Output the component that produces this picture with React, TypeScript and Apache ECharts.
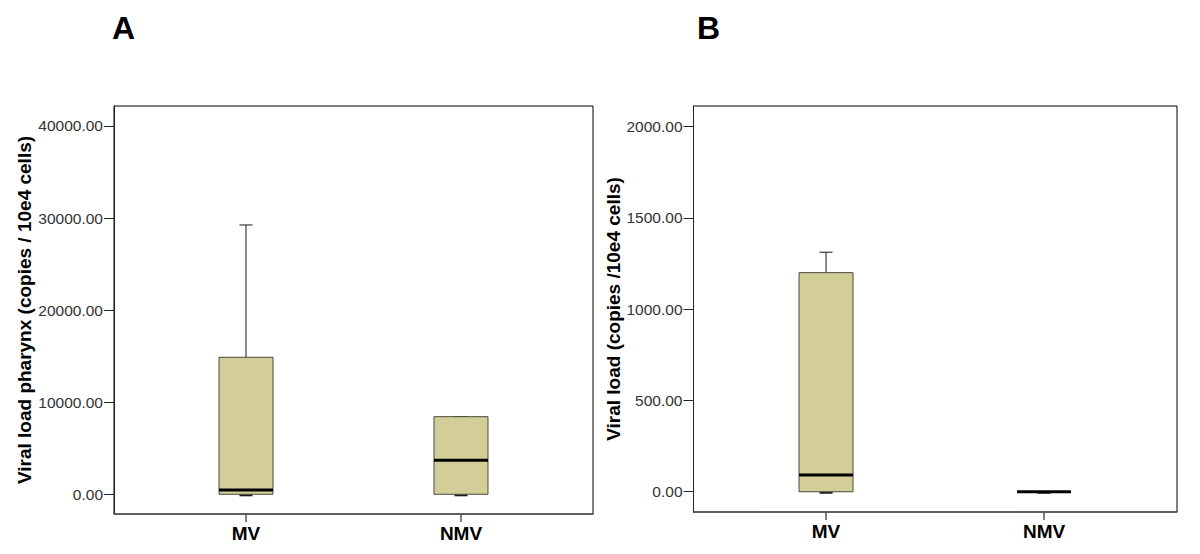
import React, { useEffect, useRef } from "react";
import * as echarts from "echarts";

// Panel A: viral load pharynx
const categoriesA = ["MV", "NMV"];
const minA = [0, 0];
const q1A = [0, 0];
const medianA = [470, 3700];
const q3A = [14880, 8430];
const maxA = [29250, 8430];
const yTicksA = [0, 10000, 20000, 30000, 40000];

// Panel B: viral load
const categoriesB = ["MV", "NMV"];
const minB = [0, 0];
const q1B = [0, 0];
const medianB = [92, 0];
const q3B = [1200, 0];
const maxB = [1312, 0];
const yTicksB = [0, 500, 1000, 1500, 2000];

const FONT = 'Arial, "Liberation Sans", sans-serif';
const BOX_FILL = "#d3ce98";
const BOX_BORDER = "#4a4a3c";
const BOX_W = 54;
const CAP_W = 13;

function rows(mins: number[], q1s: number[], meds: number[], q3s: number[], maxs: number[]) {
  return mins.map((m, i) => [i, m, q1s[i], meds[i], q3s[i], maxs[i]]);
}

const renderBox = (params: any, api: any) => {
  const x = api.value(0);
  const pMin = api.coord([x, api.value(1)]);
  const pQ1 = api.coord([x, api.value(2)]);
  const pMed = api.coord([x, api.value(3)]);
  const pQ3 = api.coord([x, api.value(4)]);
  const pMax = api.coord([x, api.value(5)]);
  const cx = pMed[0];
  const children: any[] = [];
  const whisker = { stroke: "#1a1a1a", lineWidth: 1 };
  if (pMax[1] < pQ3[1] - 0.5) {
    children.push({ type: "line", shape: { x1: cx, y1: pQ3[1], x2: cx, y2: pMax[1] }, style: whisker });
  }
  children.push({ type: "line", shape: { x1: cx - CAP_W / 2, y1: pMax[1], x2: cx + CAP_W / 2, y2: pMax[1] }, style: whisker });
  if (pMin[1] > pQ1[1] + 0.5) {
    children.push({ type: "line", shape: { x1: cx, y1: pQ1[1], x2: cx, y2: pMin[1] }, style: whisker });
  }
  children.push({ type: "line", shape: { x1: cx - CAP_W / 2, y1: pMin[1] + 1, x2: cx + CAP_W / 2, y2: pMin[1] + 1 }, style: { stroke: "#1a1a1a", lineWidth: 2 } });
  children.push({
    type: "rect",
    shape: { x: cx - BOX_W / 2, y: pQ3[1], width: BOX_W, height: Math.max(0.01, pQ1[1] - pQ3[1]) },
    style: { fill: BOX_FILL, stroke: BOX_BORDER, lineWidth: 1 },
  });
  children.push({ type: "line", shape: { x1: cx - BOX_W / 2, y1: pMed[1], x2: cx + BOX_W / 2, y2: pMed[1] }, style: { stroke: "#000", lineWidth: 3 } });
  return { type: "group", children };
};

function xAxisFor(idx: number, cats: string[], min: number, max: number) {
  return {
    type: "value",
    gridIndex: idx,
    min,
    max,
    axisLine: { show: true, onZero: false, lineStyle: { color: "#555", width: 1.5 } },
    axisTick: { show: true, length: 8, customValues: cats.map((_, i) => i), lineStyle: { color: "#555", width: 1.5 } },
    axisLabel: {
      show: true,
      customValues: cats.map((_, i) => i),
      formatter: (v: number) => cats[Math.round(v)] ?? "",
      fontFamily: FONT,
      fontSize: 19,
      fontWeight: "bold",
      color: "#000",
      margin: 10,
    },
    splitLine: { show: false },
  };
}

function yAxisFor(idx: number, ticks: number[], min: number, max: number, name: string, gap: number) {
  return {
    type: "value",
    gridIndex: idx,
    min,
    max,
    name,
    nameLocation: "middle",
    nameGap: gap,
    nameRotate: 90,
    nameTextStyle: { fontFamily: FONT, fontSize: 19, fontWeight: "bold", color: "#000" },
    axisLine: { show: true, onZero: false, lineStyle: { color: "#222", width: 1 } },
    axisTick: { show: true, length: 10, customValues: ticks, lineStyle: { color: "#222", width: 1 } },
    axisLabel: {
      show: true,
      customValues: ticks,
      formatter: (v: number) => v.toFixed(2),
      fontFamily: FONT,
      fontSize: 15.5,
      color: "#333",
      margin: 11,
    },
    splitLine: { show: false },
  };
}

export default function App() {
  const ref = useRef<HTMLDivElement>(null);
  useEffect(() => {
    if (!ref.current) return;
    const chart = echarts.init(ref.current, null, { renderer: "svg" });
    chart.setOption({
      animation: false,
      backgroundColor: "#fff",
      grid: [
        { left: 114, top: 106, width: 479, height: 408, show: true, borderColor: "#000", borderWidth: 1, backgroundColor: "transparent" },
        { left: 693.5, top: 106, width: 483.5, height: 406, show: true, borderColor: "#000", borderWidth: 1, backgroundColor: "transparent" },
      ],
      xAxis: [
        xAxisFor(0, categoriesA, -0.614, 1.614),
        xAxisFor(1, categoriesB, -0.608, 1.61),
      ],
      yAxis: [
        yAxisFor(0, yTicksA, -2140, 42170, "Viral load pharynx (copies / 10e4 cells)", 74),
        yAxisFor(1, yTicksB, -111, 2113, "Viral load (copies /10e4 cells)", 66),
      ],
      graphic: [
        { type: "text", left: 112, top: 12, style: { text: "A", font: `bold 32px ${FONT}`, fill: "#000" } },
        { type: "text", left: 697, top: 12, style: { text: "B", font: `bold 32px ${FONT}`, fill: "#000" } },
      ],
      series: [
        {
          type: "custom",
          xAxisIndex: 0,
          yAxisIndex: 0,
          renderItem: renderBox,
          data: rows(minA, q1A, medianA, q3A, maxA),
          encode: { x: 0, y: [1, 2, 3, 4, 5] },
        },
        {
          type: "custom",
          xAxisIndex: 1,
          yAxisIndex: 1,
          renderItem: renderBox,
          data: rows(minB, q1B, medianB, q3B, maxB),
          encode: { x: 0, y: [1, 2, 3, 4, 5] },
        },
      ],
    });
    return () => chart.dispose();
  }, []);
  return (
    <div
      ref={ref}
      style={{ position: "fixed", left: 0, top: 0, width: 1200, height: 554, background: "#fff" }}
    />
  );
}
